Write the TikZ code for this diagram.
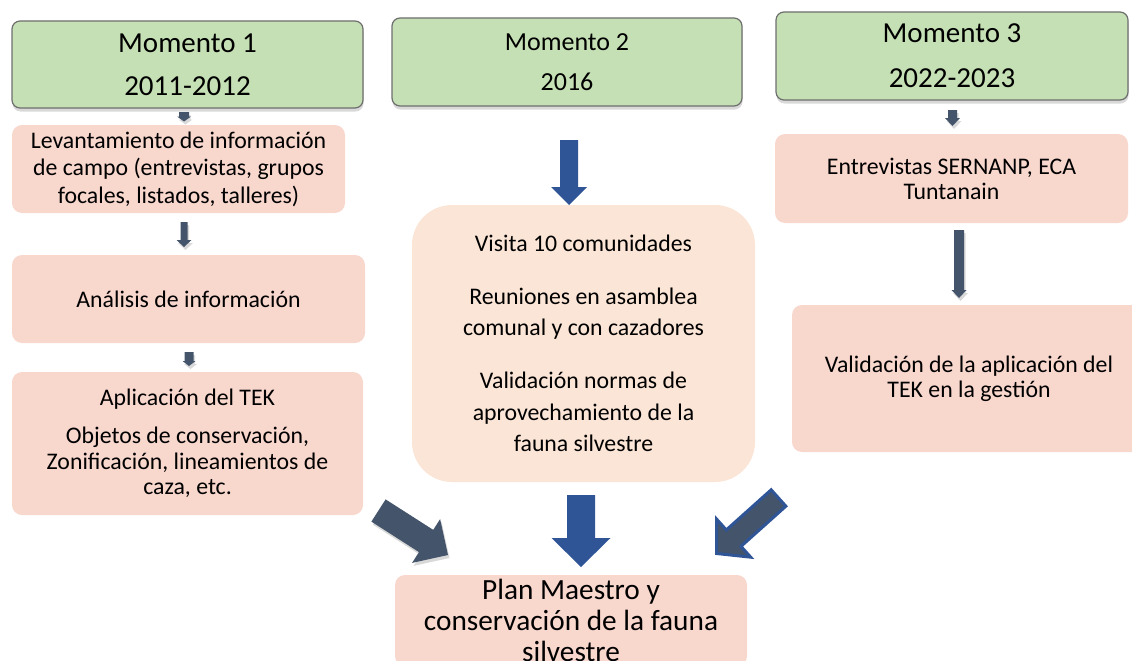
\documentclass[tikz,border=0pt]{standalone}
\usepackage{fontspec}
\setmainfont{Carlito}
\usetikzlibrary{calc,shadows}
\definecolor{greenfill}{HTML}{C5E0B4}
\definecolor{greenline}{HTML}{6E6E6E}
\definecolor{pinkfill}{HTML}{F8D7CD}
\definecolor{peachfill}{HTML}{FBE5D6}
\definecolor{slate}{HTML}{44546A}
\definecolor{blueacc}{HTML}{2F5597}
% block arrow: #1 style, #2 tail, #3 tip, #4 shaft half width, #5 head half width, #6 head length
\newcommand\blockarrow[6]{%
  \path ($(#3)!#6!(#2)$) coordinate (hb);
  \fill[#1] ($(#2)!#4!90:(#3)$) -- ($(hb)!#4!90:(#3)$) -- ($(hb)!#5!90:(#3)$) -- (#3)
    -- ($(hb)!#5!-90:(#3)$) -- ($(hb)!#4!-90:(#3)$) -- ($(#2)!#4!-90:(#3)$) -- cycle;}
\tikzset{
  momento/.style={draw=greenline, line width=1.2pt, fill=greenfill, rounded corners=8pt,
    drop shadow={shadow xshift=0.5pt, shadow yshift=-3.5pt, opacity=0.25, fill=black!60},
    align=center, inner sep=0pt},
  stepbox/.style={fill=pinkfill, rounded corners=10pt, align=center, inner sep=0pt},
  bodyfont/.style={font=\fontsize{23.8}{#1}\selectfont},
  darkarrow/.style={fill=slate, drop shadow={shadow xshift=1.5pt, shadow yshift=-3pt, opacity=0.25, fill=black!60}},
  bluearrow/.style={fill=blueacc},
}
\begin{document}
\begin{tikzpicture}[x=1pt,y=-1pt]
\useasboundingbox (0,0) rectangle (1132,661);
\clip (0,0) rectangle (1132,661);

% header boxes
\node[momento, minimum width=351pt, minimum height=87pt, font=\fontsize{29}{43}\selectfont]
  (m1) at (187.5,64.5) {Momento 1\\2011-2012};
\node[momento, minimum width=350pt, minimum height=88pt, font=\fontsize{26}{40}\selectfont]
  (m2) at (567,62) {Momento 2\\2016};
\node[momento, minimum width=352pt, minimum height=88pt, font=\fontsize{29}{45}\selectfont]
  (m3) at (952,56) {Momento 3\\2022-2023};

% column 1
\node[stepbox, minimum width=333pt, minimum height=88pt, bodyfont=27.5]
  (lev) at (178.5,169) {Levantamiento de información\\de campo (entrevistas, grupos\\focales, listados, talleres)};
\node[stepbox, minimum width=353pt, minimum height=88pt, bodyfont=27.5]
  (ana) at (188.5,299) {Análisis de información};
\node[stepbox, minimum width=351pt, minimum height=143pt, bodyfont=25.5]
  (apl) at (187.5,443.5) {Aplicación del TEK\\[12.5pt]Objetos de conservación,\\Zonificación, lineamientos de\\caza, etc.};

% column 2
\node[fill=peachfill, rounded corners=40pt, align=center, inner sep=0pt,
  minimum width=343pt, minimum height=277pt, bodyfont=31.5]
  (vis) at (583.5,343.5) {Visita 10 comunidades\\[21.5pt]Reuniones en asamblea\\comunal y con cazadores\\[21.5pt]Validación normas de\\aprovechamiento de la\\fauna silvestre};

% column 3
\node[stepbox, minimum width=353pt, minimum height=89pt, bodyfont=25]
  (ent) at (951.5,178.5) {Entrevistas SERNANP, ECA\\Tuntanain};
\node[stepbox, minimum width=354pt, minimum height=147pt, bodyfont=25]
  (val) at (969,378.5) {Validación de la aplicación del\\TEK en la gestión};

% final box
\node[stepbox, minimum width=352pt, minimum height=91pt, font=\fontsize{29.3}{31}\selectfont]
  (plan) at (571,620.5) {Plan Maestro y\\conservación de la fauna\\silvestre};

% arrow anchor coordinates
\coordinate (a1t) at (184,112);   \coordinate (a1h) at (184,121.5);
\coordinate (a2t) at (184,222);   \coordinate (a2h) at (184,247);
\coordinate (a3t) at (189,352);   \coordinate (a3h) at (189,366);
\coordinate (a4t) at (952.5,110); \coordinate (a4h) at (952.5,126);
\coordinate (a5t) at (959,230);   \coordinate (a5h) at (959,298);
\coordinate (a6t) at (569,140);   \coordinate (a6h) at (569,205);
\coordinate (a7t) at (378.5,510.5); \coordinate (a7h) at (448,555);
\coordinate (a8t) at (581,495);   \coordinate (a8h) at (581,567);
\coordinate (a9t) at (778.5,498); \coordinate (a9h) at (716.5,553.5);

% arrows
\blockarrow{darkarrow}{a1t}{a1h}{5pt}{7pt}{5pt}
\blockarrow{darkarrow}{a2t}{a2h}{3.5pt}{7.5pt}{7pt}
\blockarrow{darkarrow}{a3t}{a3h}{4.5pt}{6.5pt}{5pt}
\blockarrow{darkarrow}{a4t}{a4h}{4.5pt}{7.5pt}{8pt}
\blockarrow{darkarrow}{a5t}{a5h}{5pt}{7.5pt}{8pt}
\blockarrow{bluearrow}{a6t}{a6h}{9pt}{18pt}{18pt}
\blockarrow{darkarrow}{a7t}{a7h}{13.2pt}{26pt}{26pt}
\blockarrow{bluearrow}{a8t}{a8h}{14pt}{29.5pt}{29pt}
\blockarrow{fill=slate, draw=blueacc, line width=3pt}{a9t}{a9h}{11pt}{25.5pt}{23pt}
\end{tikzpicture}
\end{document}
